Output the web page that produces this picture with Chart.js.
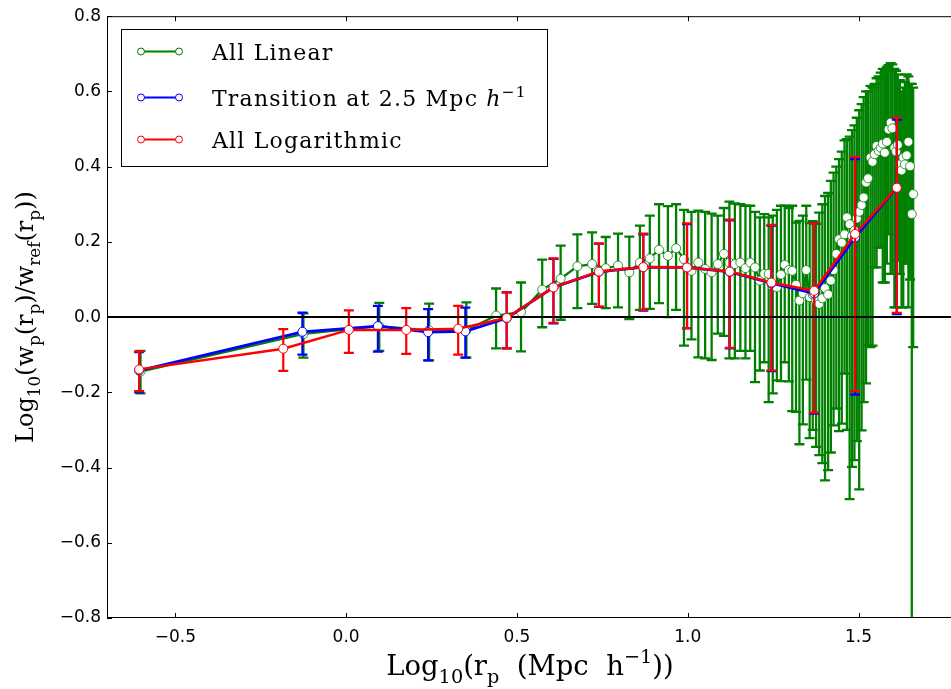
<!DOCTYPE html>
<html>
<head>
<meta charset="utf-8">
<script src="https://cdn.jsdelivr.net/npm/chart.js@4.4.1/dist/chart.umd.min.js"></script>
<style>
  html, body { margin: 0; padding: 0; background: #fff; overflow: hidden; }
  #wrap { width: 951px; height: 689px; overflow: hidden; position: relative; }
  canvas { display: block; }
</style>
</head>
<body>
<div id="wrap"><canvas id="c" width="975" height="689"></canvas></div>
<script>
// ---- All Linear binning (0.5 Mpc/h bins) ----
const linX = [
  -0.602, -0.125, 0.097, 0.243, 0.352, 0.439, 0.512, 0.574, 0.628, 0.677,
  0.720, 0.760, 0.796, 0.829, 0.860, 0.889, 0.916, 0.942, 0.966, 0.989,
  1.011, 1.031, 1.051, 1.070, 1.088, 1.106, 1.122, 1.138, 1.154, 1.169,
  1.183, 1.197, 1.211, 1.224, 1.237, 1.249, 1.261, 1.273, 1.284, 1.296,
  1.306, 1.317, 1.327, 1.337, 1.347, 1.357, 1.366, 1.376, 1.385, 1.394,
  1.402, 1.411, 1.419, 1.427, 1.435, 1.443, 1.451, 1.459, 1.466, 1.474,
  1.481, 1.488, 1.495, 1.502, 1.509, 1.515, 1.522, 1.528, 1.535, 1.541,
  1.547, 1.553, 1.559, 1.565, 1.571, 1.577, 1.583, 1.588, 1.594, 1.599,
  1.605, 1.610, 1.615, 1.621, 1.626, 1.631, 1.636, 1.641, 1.646, 1.651,
  1.656, 1.660
];
const linY = [
  -0.145, -0.045, -0.024, -0.035, -0.035, 0.004, 0.013, 0.073, 0.102, 0.135,
  0.141, 0.130, 0.137, 0.119, 0.145, 0.156, 0.179, 0.163, 0.183, 0.154,
  0.123, 0.145, 0.128, 0.119, 0.141, 0.168, 0.145, 0.141, 0.145, 0.130,
  0.145, 0.132, 0.097, 0.115, 0.115, 0.081, 0.079, 0.113, 0.139, 0.125,
  0.123, 0.086, 0.044, 0.063, 0.125, 0.053, 0.060, 0.044, 0.035, 0.050,
  0.077, 0.060, 0.097, 0.125, 0.168, 0.207, 0.198, 0.220, 0.265, 0.247,
  0.216, 0.230, 0.262, 0.280, 0.298, 0.318, 0.358, 0.369, 0.424, 0.413,
  0.433, 0.455, 0.442, 0.450, 0.461, 0.437, 0.466, 0.499, 0.517, 0.502,
  0.450, 0.440, 0.458, 0.406, 0.390, 0.424, 0.406, 0.430, 0.466, 0.401,
  0.274, 0.327
];
const linLo = [
  -0.203, -0.108, -0.090, -0.115, -0.108, -0.083, -0.091, -0.027, -0.007, 0.024,
  0.035, 0.024, 0.026, -0.005, 0.019, 0.022, 0.037, 0.000, 0.019, -0.076,
  -0.059, -0.107, -0.110, -0.114, -0.044, -0.050, -0.110, -0.110, -0.090, -0.110,
  -0.090, -0.173, -0.142, -0.120, -0.226, -0.203, -0.168, -0.170, -0.120, -0.171,
  -0.250, -0.252, -0.338, -0.285, -0.166, -0.322, -0.300, -0.345, -0.367, -0.388,
  -0.434, -0.407, -0.360, -0.288, -0.243, -0.303, -0.283, -0.150, -0.300, -0.484,
  -0.398, -0.380, -0.330, -0.458, -0.301, -0.226, -0.176, -0.075, -0.080, -0.076,
  0.132, 0.132, 0.185, 0.185, 0.092, 0.092, 0.142, 0.220, 0.115, 0.115,
  0.026, 0.026, 0.150, 0.115, 0.026, 0.026, 0.142, 0.142, 0.026, 0.100,
  -1.500, -0.080
];
const linHi = [
  -0.090, 0.010, 0.038, 0.036, 0.039, 0.076, 0.092, 0.153, 0.190, 0.220,
  0.225, 0.213, 0.222, 0.214, 0.243, 0.270, 0.300, 0.295, 0.300, 0.285,
  0.280, 0.283, 0.280, 0.275, 0.270, 0.290, 0.307, 0.302, 0.300, 0.296,
  0.296, 0.280, 0.265, 0.274, 0.265, 0.270, 0.285, 0.296, 0.296, 0.290,
  0.296, 0.251, 0.256, 0.270, 0.296, 0.250, 0.255, 0.248, 0.278, 0.300,
  0.322, 0.330, 0.362, 0.384, 0.400, 0.420, 0.440, 0.470, 0.473, 0.480,
  0.497, 0.510, 0.530, 0.550, 0.566, 0.585, 0.600, 0.600, 0.615, 0.610,
  0.620, 0.635, 0.640, 0.650, 0.660, 0.655, 0.665, 0.670, 0.675, 0.672,
  0.660, 0.655, 0.645, 0.630, 0.600, 0.610, 0.625, 0.645, 0.640, 0.620,
  0.620, 0.610
];

// ---- Transition at 2.5 Mpc/h (linear below, logarithmic above) ----
const trnX  = [-0.606, -0.128, 0.093, 0.240, 0.349, 0.470, 0.607, 0.740, 0.870, 0.998, 1.123, 1.245, 1.370, 1.490, 1.612];
const trnY  = [-0.142, -0.039, -0.024, -0.040, -0.038, -0.003, 0.079, 0.120, 0.133, 0.132, 0.120, 0.090, 0.063, 0.212, 0.344];
const trnLo = [-0.200, -0.100, -0.092, -0.115, -0.108, -0.083, -0.017, 0.027, 0.017, -0.030, -0.083, -0.144, -0.257, -0.206, 0.008];
const trnHi = [-0.093, 0.012, 0.030, 0.021, 0.025, 0.066, 0.155, 0.195, 0.220, 0.247, 0.257, 0.243, 0.250, 0.420, 0.525];

// ---- All Logarithmic binning ----
const logX  = [-0.606, -0.184, 0.008, 0.176, 0.328, 0.470, 0.607, 0.740, 0.870, 0.998, 1.123, 1.245, 1.370, 1.490, 1.612];
const logY  = [-0.139, -0.084, -0.034, -0.034, -0.031, -0.002, 0.079, 0.121, 0.133, 0.132, 0.121, 0.092, 0.070, 0.221, 0.344];
const logLo = [-0.197, -0.143, -0.095, -0.098, -0.100, -0.083, -0.015, 0.028, 0.019, -0.029, -0.082, -0.142, -0.254, -0.197, 0.011];
const logHi = [-0.091, -0.032, 0.018, 0.024, 0.030, 0.066, 0.156, 0.196, 0.222, 0.249, 0.259, 0.245, 0.249, 0.426, 0.530];

// ---- axes ----
const xTicks = [-0.5, 0.0, 0.5, 1.0, 1.5];
const yTicks = [-0.8, -0.6, -0.4, -0.2, 0.0, 0.2, 0.4, 0.6, 0.8];

const GREEN = '#008000', BLUE = '#0000ff', RED = '#ff0000';

const fmtTick = v => (v < -1e-9 ? '\u2212' : '') + Math.abs(v).toFixed(1);
const toPoints = (xs, ys) => xs.map((x, i) => ({ x: x, y: ys[i] }));

// vertical error bars with caps, drawn just below each dataset's own line
const errorBars = {
  id: 'errorBars',
  beforeDatasetDraw(chart, args) {
    const ds = chart.data.datasets[args.index];
    if (!ds.errLo) return;
    const { ctx, chartArea: a, scales: { x, y } } = chart;
    ctx.save();
    ctx.beginPath();
    ctx.rect(a.left, a.top, a.right - a.left, a.bottom - a.top);
    ctx.clip();
    ctx.strokeStyle = ds.borderColor;
    ctx.lineWidth = ds.errWidth;
    const cap = 5;
    ds.data.forEach((p, i) => {
      const px = x.getPixelForValue(p.x);
      const yl = y.getPixelForValue(ds.errLo[i]);
      const yh = y.getPixelForValue(ds.errHi[i]);
      ctx.beginPath();
      ctx.moveTo(px, yl); ctx.lineTo(px, yh);
      ctx.moveTo(px - cap, yl); ctx.lineTo(px + cap, yl);
      ctx.moveTo(px - cap, yh); ctx.lineTo(px + cap, yh);
      ctx.stroke();
    });
    // y = 0 reference line
    const y0 = y.getPixelForValue(0);
    ctx.strokeStyle = '#000';
    ctx.lineWidth = 2;
    ctx.beginPath();
    ctx.moveTo(a.left, y0); ctx.lineTo(a.right, y0);
    ctx.stroke();
    ctx.restore();
  }
};

// axes frame with inward ticks on all four sides
const frame = {
  id: 'frame',
  afterDatasetsDraw(chart) {
    const { ctx, chartArea: a, scales: { x, y } } = chart;
    ctx.save();
    ctx.strokeStyle = '#000';
    ctx.lineWidth = 1;
    ctx.strokeRect(a.left + 0.5, a.top + 0.5, a.right - a.left - 1, a.bottom - a.top - 1);
    const len = 5;
    ctx.beginPath();
    xTicks.forEach(v => {
      const px = Math.round(x.getPixelForValue(v)) + 0.5;
      ctx.moveTo(px, a.bottom); ctx.lineTo(px, a.bottom - len);
      ctx.moveTo(px, a.top); ctx.lineTo(px, a.top + len);
    });
    yTicks.forEach(v => {
      const py = Math.round(y.getPixelForValue(v)) + 0.5;
      ctx.moveTo(a.left, py); ctx.lineTo(a.left + len, py);
      ctx.moveTo(a.right, py); ctx.lineTo(a.right - len, py);
    });
    ctx.stroke();
    ctx.restore();
  }
};

// text with sub/superscripts
function segFont(s, size, family) {
  const sz = (s.k === 'sub' || s.k === 'sup') ? size * 0.7 : size;
  return (s.i ? 'italic ' : '') + sz.toFixed(1) + 'px ' + family;
}
function richWidth(ctx, segs, size, family) {
  let w = 0;
  segs.forEach(s => { ctx.font = segFont(s, size, family); w += ctx.measureText(s.t).width; });
  return w;
}
function drawRich(ctx, segs, x0, base, size, family) {
  let x = x0;
  segs.forEach(s => {
    ctx.font = segFont(s, size, family);
    const dy = s.k === 'sub' ? size * 0.28 : s.k === 'sup' ? -size * 0.42 : 0;
    ctx.fillText(s.t, x, base + dy);
    x += ctx.measureText(s.t).width;
  });
}

const SERIF = '"DejaVu Serif", serif';
const xTitle = [
  { t: 'Log' }, { t: '10', k: 'sub' }, { t: '(r' }, { t: 'p', k: 'sub' },
  { t: '  (Mpc  h' }, { t: '\u22121', k: 'sup' }, { t: '))' }
];
const yTitle = [
  { t: 'Log' }, { t: '10', k: 'sub' }, { t: '(w' }, { t: 'p', k: 'sub' },
  { t: '(r' }, { t: 'p', k: 'sub' }, { t: ')/w' }, { t: 'ref', k: 'sub' },
  { t: '(r' }, { t: 'p', k: 'sub' }, { t: '))' }
];
const legendItems = [
  { color: GREEN, segs: [{ t: 'All Linear' }] },
  { color: BLUE, segs: [{ t: 'Transition at 2.5 Mpc ' }, { t: 'h', i: true }, { t: '\u22121', k: 'sup' }] },
  { color: RED, segs: [{ t: 'All Logarithmic' }] }
];

const titlesAndLegend = {
  id: 'titlesAndLegend',
  afterDraw(chart) {
    const { ctx, chartArea: a } = chart;
    ctx.save();
    ctx.fillStyle = '#000';
    ctx.textBaseline = 'alphabetic';
    ctx.textAlign = 'left';

    // x title
    const xs = 27.5;
    const xw = richWidth(ctx, xTitle, xs, SERIF);
    drawRich(ctx, xTitle, 530 - xw / 2, 675, xs, SERIF);

    // y title (rotated)
    const ys = 24;
    const yw = richWidth(ctx, yTitle, ys, SERIF);
    ctx.save();
    ctx.translate(33, (a.top + a.bottom) / 2);
    ctx.rotate(-Math.PI / 2);
    drawRich(ctx, yTitle, -yw / 2, 0, ys, SERIF);
    ctx.restore();

    // legend
    const bx = 121.5, by = 29.5, bw = 426, bh = 137;
    ctx.fillStyle = '#fff';
    ctx.fillRect(bx, by, bw, bh);
    ctx.strokeStyle = '#000';
    ctx.lineWidth = 1;
    ctx.strokeRect(bx, by, bw, bh);
    const rows = [51.5, 97.5, 139.5];
    legendItems.forEach((it, i) => {
      const yy = rows[i];
      ctx.strokeStyle = it.color;
      ctx.lineWidth = 2;
      ctx.beginPath(); ctx.moveTo(141, yy); ctx.lineTo(179, yy); ctx.stroke();
      [141, 179].forEach(cx => {
        ctx.beginPath();
        ctx.arc(cx, yy, 3.5, 0, Math.PI * 2);
        ctx.fillStyle = '#fff'; ctx.fill();
        ctx.lineWidth = 1; ctx.strokeStyle = it.color; ctx.stroke();
      });
      ctx.fillStyle = '#000';
      ctx.letterSpacing = '1.2px';
      drawRich(ctx, it.segs, 212, yy + 8.5, 22, SERIF);
      ctx.letterSpacing = '0px';
    });
    ctx.restore();
  }
};

const series = (label, xs, ys, lo, hi, color, order, lw, ew, bw) => ({
  label: label,
  data: toPoints(xs, ys),
  errLo: lo,
  errHi: hi,
  errWidth: ew,
  order: order,
  showLine: true,
  borderColor: color,
  backgroundColor: color,
  borderWidth: lw,
  pointRadius: 4.5,
  pointHoverRadius: 4.5,
  pointBackgroundColor: '#fff',
  pointBorderColor: color,
  pointBorderWidth: bw
});

new Chart(document.getElementById('c'), {
  type: 'scatter',
  data: {
    datasets: [
      series('All Linear', linX, linY, linLo, linHi, GREEN, 3, 2.2, 2.3, 0.8),
      series('Transition at 2.5 Mpc h\u207b\u00b9', trnX, trnY, trnLo, trnHi, BLUE, 2, 2.8, 2.2, 1),
      series('All Logarithmic', logX, logY, logLo, logHi, RED, 1, 2.5, 2.2, 1)
    ]
  },
  options: {
    responsive: false,
    animation: false,
    devicePixelRatio: 1,
    layout: { padding: { top: 15, right: 14, left: 0, bottom: 0 } },
    plugins: { legend: { display: false }, tooltip: { enabled: false } },
    scales: {
      x: {
        type: 'linear', min: -0.7, max: 1.8,
        grid: { display: false, drawTicks: false },
        border: { display: false },
        afterBuildTicks: s => { s.ticks = xTicks.map(v => ({ value: v })); },
        afterFit: s => { s.height = 71; },
        ticks: { padding: 9, color: '#000', font: { family: '"DejaVu Sans"', size: 17 }, callback: v => fmtTick(v), maxRotation: 0 }
      },
      y: {
        type: 'linear', min: -0.8, max: 0.8,
        grid: { display: false, drawTicks: false },
        border: { display: false },
        afterBuildTicks: s => { s.ticks = yTicks.map(v => ({ value: v })); },
        afterFit: s => { s.width = 107; },
        ticks: { padding: 6, color: '#000', font: { family: '"DejaVu Sans"', size: 17 }, callback: v => fmtTick(v) }
      }
    }
  },
  plugins: [errorBars, frame, titlesAndLegend]
});
</script>
</body>
</html>
